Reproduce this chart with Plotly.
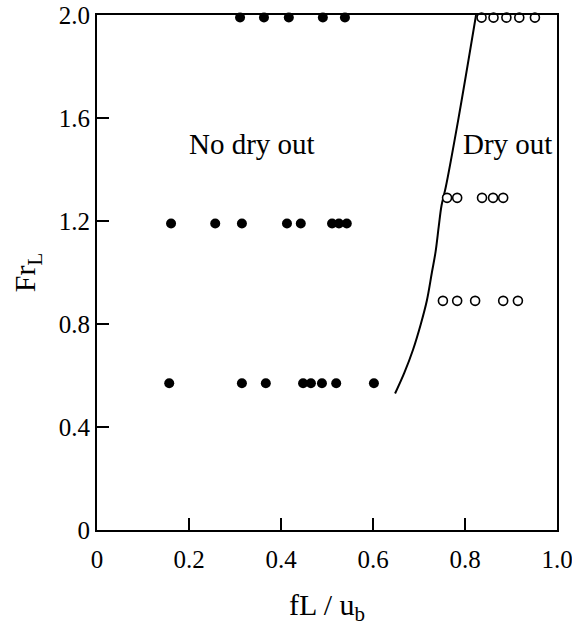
import plotly.graph_objects as go

# Data
nodry_x_top = [0.311, 0.363, 0.417, 0.491, 0.539]
nodry_y_top = [1.99] * 5
nodry_x_mid = [0.161, 0.257, 0.315, 0.413, 0.443, 0.511, 0.526, 0.543]
nodry_y_mid = [1.19] * 8
nodry_x_low = [0.157, 0.315, 0.367, 0.448, 0.465, 0.489, 0.520, 0.602]
nodry_y_low = [0.57] * 8

dry_x_top = [0.836, 0.862, 0.890, 0.918, 0.952]
dry_y_top = [1.99] * 5
dry_x_mid = [0.761, 0.783, 0.837, 0.861, 0.883]
dry_y_mid = [1.29] * 5
dry_x_low = [0.752, 0.783, 0.822, 0.883, 0.915]
dry_y_low = [0.89] * 5

curve_x = [0.648, 0.668, 0.687, 0.704, 0.717, 0.728, 0.736, 0.743, 0.749, 0.758, 0.785, 0.824]
curve_y = [0.53, 0.61, 0.70, 0.80, 0.89, 1.00, 1.08, 1.18, 1.26, 1.33, 1.59, 2.00]

x_ticks = [0, 0.2, 0.4, 0.6, 0.8, 1.0]
x_ticklabels = ["0", "0.2", "0.4", "0.6", "0.8", "1.0"]
y_ticks = [0, 0.4, 0.8, 1.2, 1.6, 2.0]
y_ticklabels = ["0", "0.4", "0.8", "1.2", "1.6", "2.0"]

FONT = "Liberation Serif"

fig = go.Figure()

fig.add_trace(go.Scatter(x=curve_x, y=curve_y, mode="lines",
                         line=dict(color="black", width=2, shape="spline"),
                         showlegend=False, hoverinfo="skip"))

filled_x = nodry_x_top + nodry_x_mid + nodry_x_low
filled_y = nodry_y_top + nodry_y_mid + nodry_y_low
fig.add_trace(go.Scatter(x=filled_x, y=filled_y, mode="markers",
                         marker=dict(color="black", size=10, symbol="circle"),
                         cliponaxis=False, showlegend=False))

open_x = dry_x_top + dry_x_mid + dry_x_low
open_y = dry_y_top + dry_y_mid + dry_y_low
fig.add_trace(go.Scatter(x=open_x, y=open_y, mode="markers",
                         marker=dict(color="white", size=9, symbol="circle",
                                     line=dict(color="black", width=1.6)),
                         cliponaxis=False, showlegend=False))

fig.add_annotation(x=0.337, y=1.50, text="No dry out", showarrow=False,
                   font=dict(family=FONT, size=29, color="black"))
fig.add_annotation(x=0.893, y=1.50, text="Dry out", showarrow=False,
                   font=dict(family=FONT, size=29, color="black"))

fig.update_layout(
    width=572, height=629,
    margin=dict(l=97, r=15, t=15, b=99, autoexpand=False),
    plot_bgcolor="white", paper_bgcolor="white",
    font=dict(family=FONT, color="black", size=25),
    xaxis=dict(range=[0, 1.0], tickvals=x_ticks, ticktext=x_ticklabels,
               ticks="inside", ticklen=12, tickwidth=2, tickcolor="black",
               showline=True, linecolor="black", linewidth=2, mirror=True,
               showgrid=False, zeroline=False, automargin=False,
               ticklabelstandoff=6, ticklabeloverflow="allow",
               tickfont=dict(family=FONT, size=25, color="black"),
               title=dict(text="fL / u<sub>b</sub>", font=dict(family=FONT, size=30), standoff=22)),
    yaxis=dict(range=[0, 2.0], tickvals=y_ticks, ticktext=y_ticklabels,
               ticks="inside", ticklen=12, tickwidth=2, tickcolor="black",
               showline=True, linecolor="black", linewidth=2, mirror=True,
               showgrid=False, zeroline=False, automargin=False,
               ticklabeloverflow="allow",
               tickfont=dict(family=FONT, size=25, color="black"),
               title=dict(text="Fr<sub>L</sub>", font=dict(family=FONT, size=30), standoff=14)),
)

fig.write_html("out.html")
